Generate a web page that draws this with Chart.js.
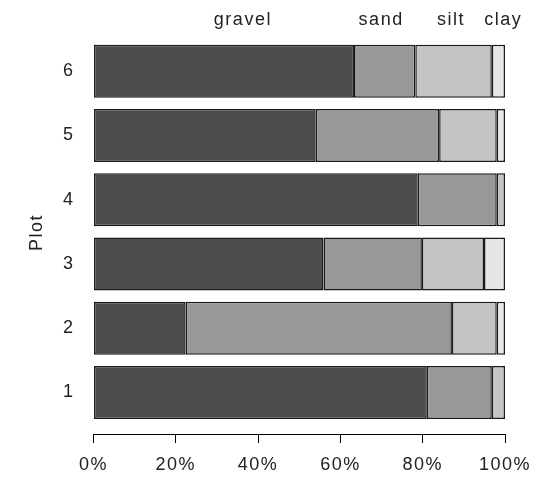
<!DOCTYPE html>
<html>
<head>
<meta charset="utf-8">
<script src="https://cdn.jsdelivr.net/npm/chart.js@4/dist/chart.umd.min.js"></script>
<style>
  html, body { margin: 0; padding: 0; background: #ffffff; }
  #wrap { width: 538px; height: 479px; position: relative; }
</style>
</head>
<body>
<div id="wrap"><canvas id="c" width="538" height="479"></canvas></div>
<script>
// ---- data (percent of each plot) ----
const plots  = [1, 2, 3, 4, 5, 6];
const gravel = [81.0, 22.4, 55.9, 78.8, 54.0, 63.3];
const sand   = [15.8, 64.7, 23.9, 19.2, 30.0, 14.9];
const silt   = [ 3.2, 10.9, 15.1,  2.0, 14.0, 18.6];
const clay   = [ 0.0,  2.0,  5.1,  0.0,  2.0,  3.2];
const xTicks = [0, 20, 40, 60, 80, 100];
const topLabelNames = ['gravel', 'sand', 'silt', 'clay'];
const topLabelPos   = [36.3, 69.9, 86.9, 99.6];

const FONT = "'Liberation Sans', Arial, sans-serif";
const spacingPlugin = {
  id: 'letterSpacing',
  beforeLayout(chart) { chart.ctx.letterSpacing = '1.5px'; },
  beforeDraw(chart) { chart.ctx.letterSpacing = '1.5px'; }
};

function ds(label, values, color) {
  return {
    label: label,
    data: values.map((v, i) => ({ x: v, y: plots[i] })),
    backgroundColor: color,
    borderColor: '#1a1a1a',
    borderWidth: 1.5,
    borderSkipped: false,
    barPercentage: 0.825,
    categoryPercentage: 1.0,
    stack: 's'
  };
}

function noPad(s) { s.paddingLeft = 0; s.paddingRight = 0; }

new Chart(document.getElementById('c'), {
  type: 'bar',
  data: {
    datasets: [
      ds('gravel', gravel, '#4d4d4d'),
      ds('sand', sand, '#989898'),
      ds('silt', silt, '#c4c4c4'),
      ds('clay', clay, '#e6e6e6')
    ]
  },
  plugins: [spacingPlugin],
  options: {
    indexAxis: 'y',
    responsive: false,
    animation: false,
    devicePixelRatio: 1,
    layout: { padding: { left: 0, right: 33, top: 0, bottom: 0 } },
    plugins: { legend: { display: false }, tooltip: { enabled: false } },
    scales: {
      x: {
        type: 'linear', position: 'bottom', stacked: true,
        min: 0, max: 100,
        afterBuildTicks: s => { s.ticks = xTicks.map(v => ({ value: v })); },
        afterFit: s => { s.height = 45; noPad(s); },
        border: { display: true, color: '#000', width: 1 },
        grid: { display: true, drawOnChartArea: false, drawTicks: true, tickLength: 9, color: '#000', lineWidth: 1 },
        ticks: { color: '#222', font: { family: FONT, size: 18 }, padding: 11, maxRotation: 0, autoSkip: false,
                 callback: v => v + '%' }
      },
      x2: {
        type: 'linear', position: 'top',
        min: 0, max: 100,
        afterBuildTicks: s => { s.ticks = topLabelPos.map(v => ({ value: v })); },
        afterFit: s => { s.height = 31; noPad(s); },
        border: { display: false },
        grid: { display: false, drawTicks: false },
        ticks: { color: '#222', font: { family: FONT, size: 18 }, padding: 0, maxRotation: 0, autoSkip: false,
                 callback: (v, i) => topLabelNames[i] }
      },
      y: {
        type: 'linear', position: 'left', stacked: true,
        offset: false,
        min: 0.354, max: 6.626,
        afterBuildTicks: s => { s.ticks = plots.map(v => ({ value: v })); },
        afterFit: s => { s.width = 93.5; s.paddingTop = 0; s.paddingBottom = 0; },
        border: { display: false },
        grid: { display: false, drawTicks: false, offset: false },
        ticks: { color: '#222', font: { family: FONT, size: 18 }, padding: 19, autoSkip: false },
        title: { display: true, text: 'Plot', color: '#222', font: { family: FONT, size: 18 }, padding: { top: 26, bottom: 0 } }
      }
    }
  }
});
</script>
</body>
</html>
